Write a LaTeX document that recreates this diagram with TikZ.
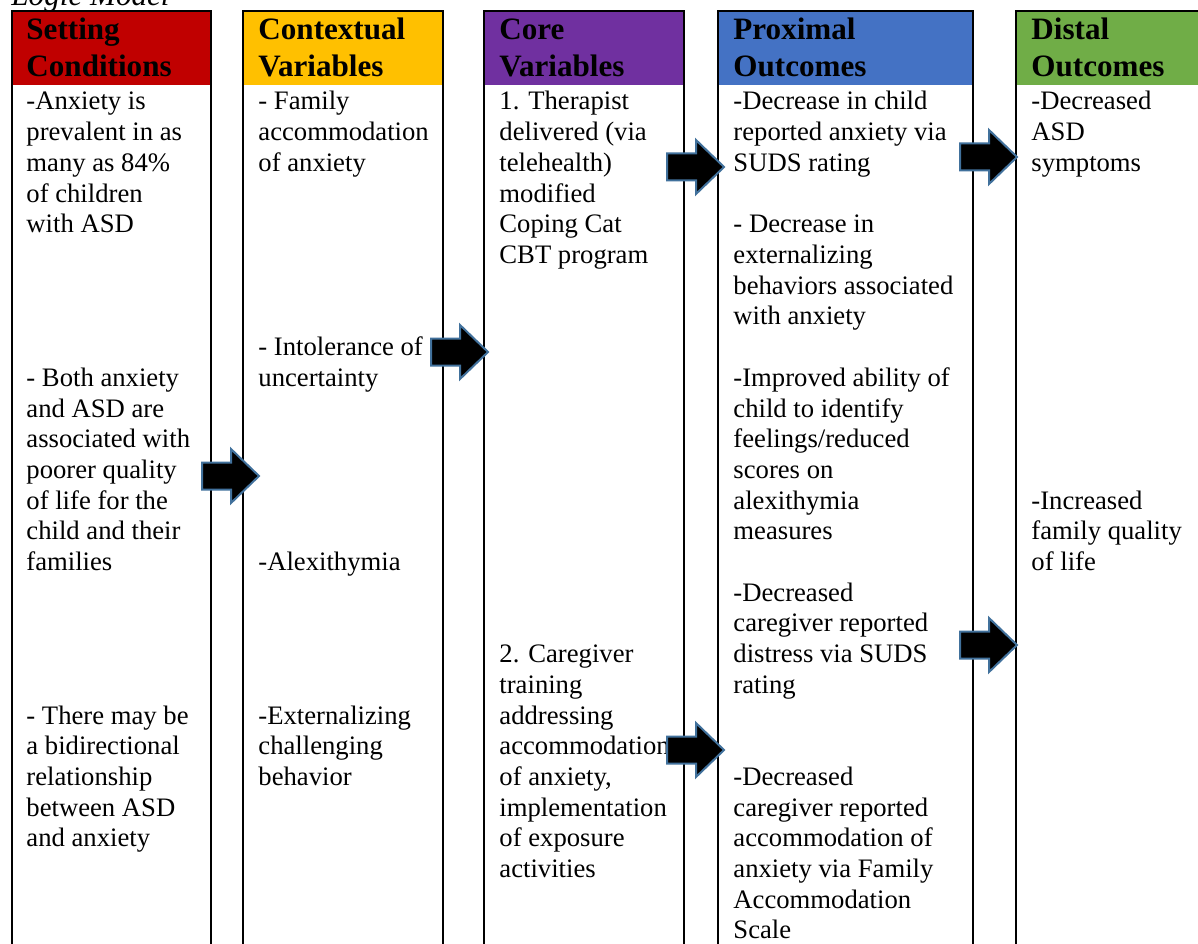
\documentclass[tikz,border=0pt]{standalone}
\usepackage{fontspec}
\setmainfont{Liberation Serif}
\definecolor{cset}{HTML}{C00000}
\definecolor{cctx}{HTML}{FFC000}
\definecolor{ccore}{HTML}{7030A0}
\definecolor{cprox}{HTML}{4472C4}
\definecolor{cdist}{HTML}{70AD47}
\definecolor{arrowline}{HTML}{41719C}
\tikzset{
 hdrtext/.style={font=\fontsize{14}{16}\selectfont\bfseries, inner sep=0pt, anchor=base west},
 body/.style={font=\fontsize{12}{13.8}\selectfont, inner sep=0pt, anchor=base west},
 colline/.style={line width=0.8pt, draw=black},
 blockarrow/.style={fill=black, draw=arrowline, line width=0.9pt, line join=miter},
}
\newcommand\txtlines[4]{%
  \foreach \t [count=\i from #3] in {#4} {
    \node[body] (#1-\i) at (#2,{110+30.7*\i}) {\t};
  }}
\newcommand\blkarrow[2]{%
  \draw[blockarrow] (#1-57,#2-13.5) -- (#1-28,#2-13.5) -- (#1-28,#2-27) -- (#1,#2)
     -- (#1-28,#2+27) -- (#1-28,#2+13.5) -- (#1-57,#2+13.5) -- cycle;
}
\begin{document}
\begin{tikzpicture}[x=0.45pt,y=-0.45pt]
\useasboundingbox (0,0) rectangle (1198,943);
\clip (0,0) rectangle (1198,943);
\fill[white] (0,0) rectangle (1198,943);

\node[font=\fontsize{14}{16}\selectfont\itshape, inner sep=0pt, anchor=base west] (title) at (11,6) {Logic Model};

% columns: header fill and borders
\foreach \l/\r/\c in {12/211/cset, 243/443/cctx, 484/684/ccore, 718/973/cprox, 1016/1240/cdist} {
  \fill[\c] (\l,11) rectangle (\r,85);
  \draw[colline] (\l,960) -- (\l,11) -- (\r,11) -- (\r,960);
}

% header texts
\node[hdrtext] (h1a) at (26,39.5) {Setting};
\node[hdrtext] (h1b) at (26,76.5) {Conditions};
\node[hdrtext] (h2a) at (258,39.5) {Contextual};
\node[hdrtext] (h2b) at (258,76.5) {Variables};
\node[hdrtext] (h3a) at (499,39.5) {Core};
\node[hdrtext] (h3b) at (499,76.5) {Variables};
\node[hdrtext] (h4a) at (733,39.5) {Proximal};
\node[hdrtext] (h4b) at (733,76.5) {Outcomes};
\node[hdrtext] (h5a) at (1031,39.5) {Distal};
\node[hdrtext] (h5b) at (1031,76.5) {Outcomes};

% column 1
\txtlines{c1a}{26}{0}{-Anxiety is, prevalent in as, many as 84\%, of children, with ASD}
\txtlines{c1b}{26}{9}{- Both anxiety, and ASD are, associated with, poorer quality, of life for the, child and their, families}
\txtlines{c1c}{26}{20}{- There may be, a bidirectional, relationship, between ASD, and anxiety}

% column 2
\txtlines{c2a}{258}{0}{- Family, accommodation, of anxiety}
\txtlines{c2b}{258}{8}{- Intolerance of, uncertainty}
\txtlines{c2c}{258}{15}{-Alexithymia}
\txtlines{c2d}{258}{20}{-Externalizing, challenging, behavior}

% column 3
\txtlines{c3a}{499}{0}{1. Therapist, delivered (via, telehealth), modified, Coping Cat, CBT program}
\txtlines{c3b}{499}{18}{2. Caregiver, training, addressing, accommodation, {of anxiety,}, implementation, of exposure, activities}

% column 4
\txtlines{c4a}{733}{0}{-Decrease in child, reported anxiety via, SUDS rating}
\txtlines{c4b}{733}{4}{- Decrease in, externalizing, behaviors associated, with anxiety}
\txtlines{c4c}{733}{9}{-Improved ability of, child to identify, feelings/reduced, scores on, alexithymia, measures}
\txtlines{c4d}{733}{16}{-Decreased, caregiver reported, distress via SUDS, rating}
\txtlines{c4e}{733}{22}{-Decreased, caregiver reported, accommodation of, anxiety via Family, Accommodation, Scale}

% column 5
\txtlines{c5a}{1031}{0}{-Decreased, ASD, symptoms}
\txtlines{c5b}{1031}{13}{-Increased, family quality, of life}

% block arrows
\blkarrow{259}{476}
\blkarrow{488}{352}
\blkarrow{724}{167}
\blkarrow{724}{750}
\blkarrow{1017}{157}
\blkarrow{1017}{645}
\end{tikzpicture}
\end{document}
